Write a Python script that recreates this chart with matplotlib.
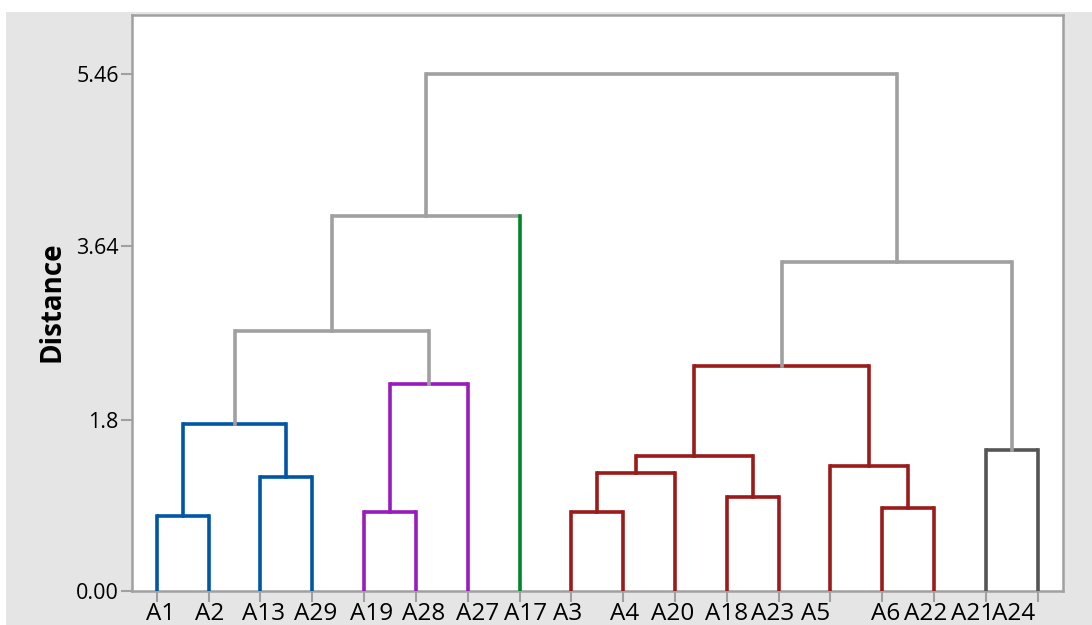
import numpy as np
import matplotlib.pyplot as plt
import matplotlib.transforms as mtransforms
from matplotlib.patches import Rectangle

plt.rcParams['font.family'] = ['Open Sans', 'DejaVu Sans']

# leaf order along the x axis
leaves = ["A1", "A2", "A13", "A29", "A19", "A28", "A27", "A17", "A3",
          "A4", "A20", "A18", "A23", "A5", "A6", "A22", "A21", "A24"]

# merges: (name, left child, right child, distance)
merge_names = ["c1", "c2", "c3", "c4", "c5", "c6", "c7", "c8", "c9",
               "c10", "c11", "c12", "c13", "c14", "c15", "c16", "c17"]
merge_left = ["A1", "A13", "c1", "A19", "c4", "c3", "c6",
              "A3", "c8", "A18", "c9", "A6", "A5", "c11", "A21", "c14", "c7"]
merge_right = ["A2", "A29", "c2", "A28", "A27", "c5", "A17",
               "A4", "A20", "A23", "c10", "A22", "c12", "c13", "A24", "c15", "c16"]
merge_dist = [0.79, 1.20, 1.76, 0.83, 2.18, 2.74, 3.96,
              0.83, 1.25, 0.99, 1.43, 0.88, 1.32, 2.37, 1.49, 3.47, 5.46]

ytick_vals = [0, 1.8, 3.64, 5.46]
ytick_text = ["0.00", "1.8", "3.64", "5.46"]

blue = "#0055a5"
purple = "#9a1bbd"
green = "#00862b"
red = "#9b1a1a"
dark = "#555555"
light = "#a0a0a0"

merge_color = [blue, blue, blue, purple, purple, light, light,
               red, red, red, red, red, red, red, dark, light, light]
leaf_color = {"A17": green}

# small horizontal shifts (pixels) of the leaf labels relative to their ticks
label_shift = [4, 1, 3, 3, 7, 8, 10, 6.5, -4, 1, -2.5, 0, -5.5, -15, 3, -8, -13, -24]

fig = plt.figure(figsize=(10.92, 6.25), dpi=100, facecolor="white")
fig.patches.append(Rectangle((6 / 1092, 0), 1, 1 - 12 / 625, transform=fig.transFigure,
                             facecolor="#e5e5e5", edgecolor="none", zorder=-10))
ax = fig.add_axes([132 / 1092, 1 - 591 / 625, (1063 - 132) / 1092, (591 - 15) / 625])

xpos = {name: i for i, name in enumerate(leaves)}
ypos = {name: 0.0 for name in leaves}
lw = 2.6
for name, l, r, d, c in zip(merge_names, merge_left, merge_right, merge_dist, merge_color):
    xl, xr = xpos[l], xpos[r]
    ax.plot([xl, xr], [d, d], color=c, lw=lw, solid_capstyle="butt", zorder=3)
    for child, xc in ((l, xl), (r, xr)):
        cc = leaf_color.get(child, c)
        ax.plot([xc, xc], [ypos[child], d], color=cc, lw=lw, solid_capstyle="projecting", zorder=3)
    xpos[name] = (xl + xr) / 2
    ypos[name] = d

ax.set_xlim(-0.48, 17.49)
ax.set_ylim(0, 6.08)
ax.set_xticks(range(len(leaves)))
ax.set_xticklabels(leaves, fontsize=17.5)
ax.set_yticks(ytick_vals)
ax.set_yticklabels(ytick_text, fontsize=15.5)
ax.tick_params(axis="both", color=light, length=8, width=1.5, pad=1.5)
ax.tick_params(axis="x", pad=0)
for lab, dx in zip(ax.get_xticklabels(), label_shift):
    lab.set_transform(lab.get_transform() +
                      mtransforms.ScaledTranslation(dx / 100, 0, fig.dpi_scale_trans))
for s in ax.spines.values():
    s.set_color(light)
    s.set_linewidth(1.8)
ax.set_ylabel("Distance", fontsize=20, fontweight="bold")
ax.yaxis.set_label_coords(-0.07, 0.503)

fig.savefig("out.png", dpi=100, facecolor=fig.get_facecolor())
